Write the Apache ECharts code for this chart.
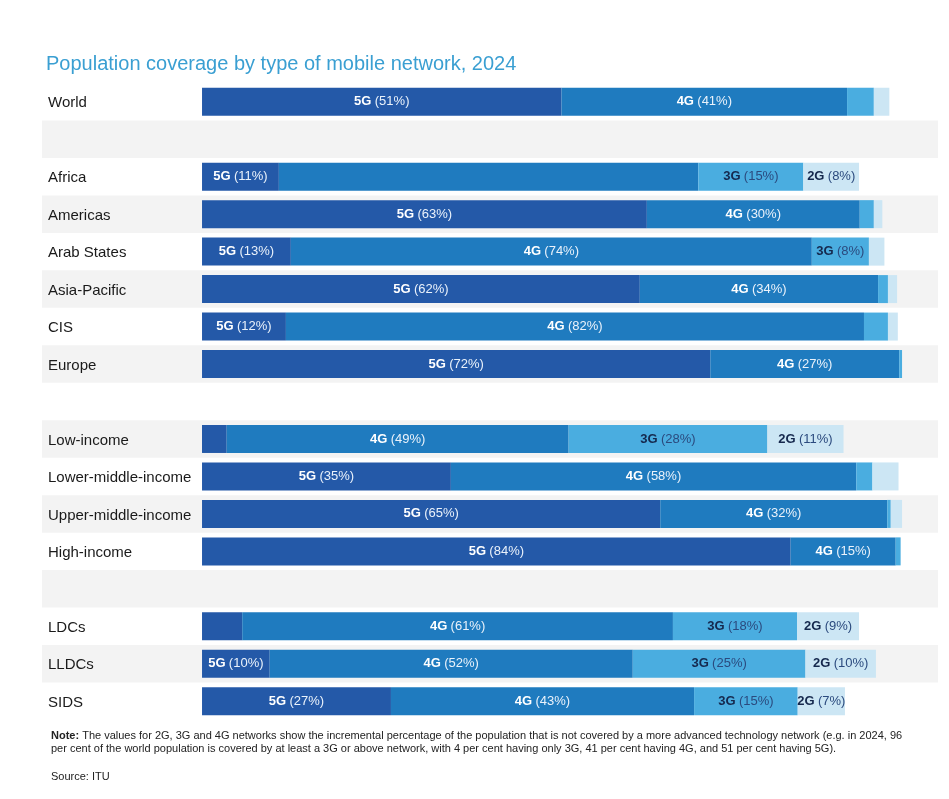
<!DOCTYPE html>
<html>
<head>
<meta charset="utf-8">
<script src="https://cdn.jsdelivr.net/npm/echarts@6/dist/echarts.min.js"></script>
<style>
html,body{margin:0;padding:0;background:#fff;}
#chart{width:949px;height:799px;}
</style>
</head>
<body>
<div id="chart"></div>
<script>
const categories = ['World',' ','Africa','Americas','Arab States','Asia-Pacific','CIS','Europe','  ',
  'Low-income','Lower-middle-income','Upper-middle-income','High-income','   ','LDCs','LLDCs','SIDS'];
const g5 = [51, null, 10.9, 63.1, 12.6, 62.1, 11.9, 72.1, null, 3.5, 35.3, 65, 83.5, null, 5.7, 9.6, 26.8];
const g4 = [40.5, null, 59.5, 30.2, 73.9, 33.8, 82, 26.8, null, 48.5, 57.5, 32.2, 14.9, null, 61.1, 51.5, 43];
const g3 = [3.8, null, 14.9, 2, 8.1, 1.4, 3.4, 0.4, null, 28.2, 2.3, 0.5, 0.7, null, 17.6, 24.5, 14.7];
const g2 = [2.2, null, 7.9, 1.2, 2.2, 1.3, 1.4, 0, null, 10.8, 3.7, 1.6, 0, null, 8.8, 10, 6.7];
const seriesNames = ['5G','4G','3G','2G'];
const seriesColors = ['#2459a8','#1f7bbf','#4aade0','#cce6f4'];
// segments whose label is not visible in the source picture (covered by watermark)
const hiddenLabels = [{series:'4G', category:'Africa'}];

const allData = [g5, g4, g3, g2];
const chart = echarts.init(document.getElementById('chart'));

const series = seriesNames.map((name, si) => {
  const dark = si >= 2;
  return {
    name: name,
    type: 'bar',
    stack: 'total',
    barWidth: 28,
    itemStyle: {color: seriesColors[si]},
    data: allData[si].map((v, ci) => {
      const hide = hiddenLabels.some(h => h.series === name && h.category === categories[ci]);
      return hide ? {value: v, label: {show: false}} : v;
    }),
    label: {
      show: true,
      position: 'inside',
      formatter: p => (p.value == null || p.value < 6.5) ? '' : '{b|' + name + '} {n|(' + Math.round(p.value) + '%)}',
      rich: {
        b: {fontFamily: 'Liberation Sans, Arial, sans-serif', fontWeight: 'bold', fontSize: 13, color: dark ? '#15284d' : '#ffffff'},
        n: {fontFamily: 'Liberation Sans, Arial, sans-serif', fontSize: 13, color: dark ? '#2b4a7e' : '#eaf2fb'}
      }
    }
  };
});

chart.setOption({
  animation: false,
  backgroundColor: '#ffffff',
  title: [
    {
      text: 'Population coverage by type of mobile network, 2024',
      left: 41, top: 49,
      textStyle: {fontFamily: 'Liberation Sans, Arial, sans-serif', fontSize: 20, fontWeight: 'normal', color: '#3a9fd2'}
    },
    {
      text: '{b|Note:} The values for 2G, 3G and 4G networks show the incremental percentage of the population that is not covered by a more advanced technology network (e.g. in 2024, 96\nper cent of the world population is covered by at least a 3G or above network, with 4 per cent having only 3G, 41 per cent having 4G, and 51 per cent having 5G).',
      left: 46, top: 724,
      textStyle: {fontFamily: 'Liberation Sans, Arial, sans-serif', fontSize: 11, fontWeight: 'normal', color: '#222', lineHeight: 13,
        rich: {b: {fontFamily: 'Liberation Sans, Arial, sans-serif', fontSize: 11, fontWeight: 'bold', color: '#222', lineHeight: 13}}}
    },
    {
      text: 'Source: ITU',
      left: 46, top: 766,
      textStyle: {fontFamily: 'Liberation Sans, Arial, sans-serif', fontSize: 11, fontWeight: 'normal', color: '#222'}
    }
  ],
  grid: {left: 42, right: 11, top: 83, bottom: 79, containLabel: false},
  xAxis: {
    type: 'value', min: -22.7, max: 104.4, show: false
  },
  yAxis: {
    type: 'category',
    data: categories,
    inverse: true,
    axisLine: {show: false, onZero: false},
    axisTick: {show: false},
    splitLine: {show: false},
    splitArea: {show: true, interval: 0, areaStyle: {color: ['rgba(255,255,255,0)', '#f3f3f3']}},
    axisLabel: {
      interval: 0, align: 'left', margin: -6,
      formatter: v => '{a|' + v + '}',
      rich: {a: {fontFamily: 'Liberation Sans, Arial, sans-serif', fontSize: 15, color: '#1a1a1a', padding: [3, 0, 0, 0]}}
    }
  },
  series: series
});
</script>
</body>
</html>
